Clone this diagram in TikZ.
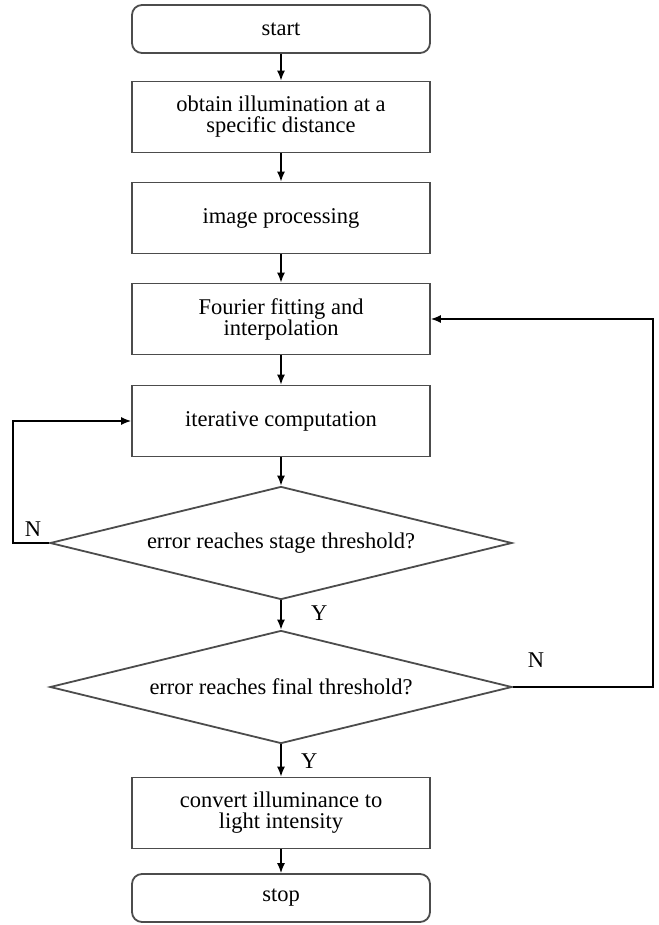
\documentclass[tikz,border=0pt]{standalone}
\usepackage{fontspec}
\setmainfont{Liberation Serif}
\usetikzlibrary{shapes.geometric,arrows.meta}

\begin{document}
\begin{tikzpicture}[x=1pt, y=-1pt,
  txt/.style={font=\fontsize{22.5}{21}\selectfont},
  proc/.style={txt, draw=black!70, line width=1.8pt, minimum width=298pt, minimum height=71pt, inner sep=0pt, align=center},
  term/.style={proc, rounded corners=10pt, minimum height=48pt},
  test/.style={txt, diamond, aspect=4.1, draw=black!70, line width=1.8pt, minimum width=462pt, minimum height=113pt, inner sep=0pt},
  flow/.style={-{Latex[length=10pt, width=8pt]}, line width=1.5pt}]

\useasboundingbox (0,0) rectangle (658,925);

% main column
\node[term] (start)   at (281,29)  {start};
\node[proc] (obtain)  at (281,117) {obtain illumination at a\\specific distance};
\node[proc] (improc)  at (281,218) {image processing};
\node[proc] (fourier) at (281,319) {Fourier fitting and\\interpolation};
\node[proc] (iter)    at (281,421) {iterative computation};
\node[test] (stage)   at (281,543) {error reaches stage threshold?};
\node[test] (final)   at (281,687) {error reaches final threshold?};
\node[proc] (convert) at (281,813) {convert illuminance to\\light intensity};
\node[term] (stop)    at (281,898) {stop};

\draw[flow] (start) -- (obtain);
\draw[flow] (obtain) -- (improc);
\draw[flow] (improc) -- (fourier);
\draw[flow] (fourier) -- (iter);
\draw[flow] (iter) -- (stage);
\draw[flow] (stage) -- node[txt, right=26pt, yshift=2pt] (y1) {Y} (final);
\draw[flow] (final) -- node[txt, right=16pt, yshift=-1pt] (y2) {Y} (convert);
\draw[flow] (convert) -- (stop);

% loops back
\coordinate (lft) at (13,543);
\coordinate (rgt) at (653,687);
\draw[flow] (stage.west) -- (lft) |- (iter.west);
\draw[flow] (final.east) -- (rgt) |- (fourier.east);
\node[txt] (n1) at (33,529) {N};
\node[txt] (n2) at (536,660) {N};

\end{tikzpicture}
\end{document}
